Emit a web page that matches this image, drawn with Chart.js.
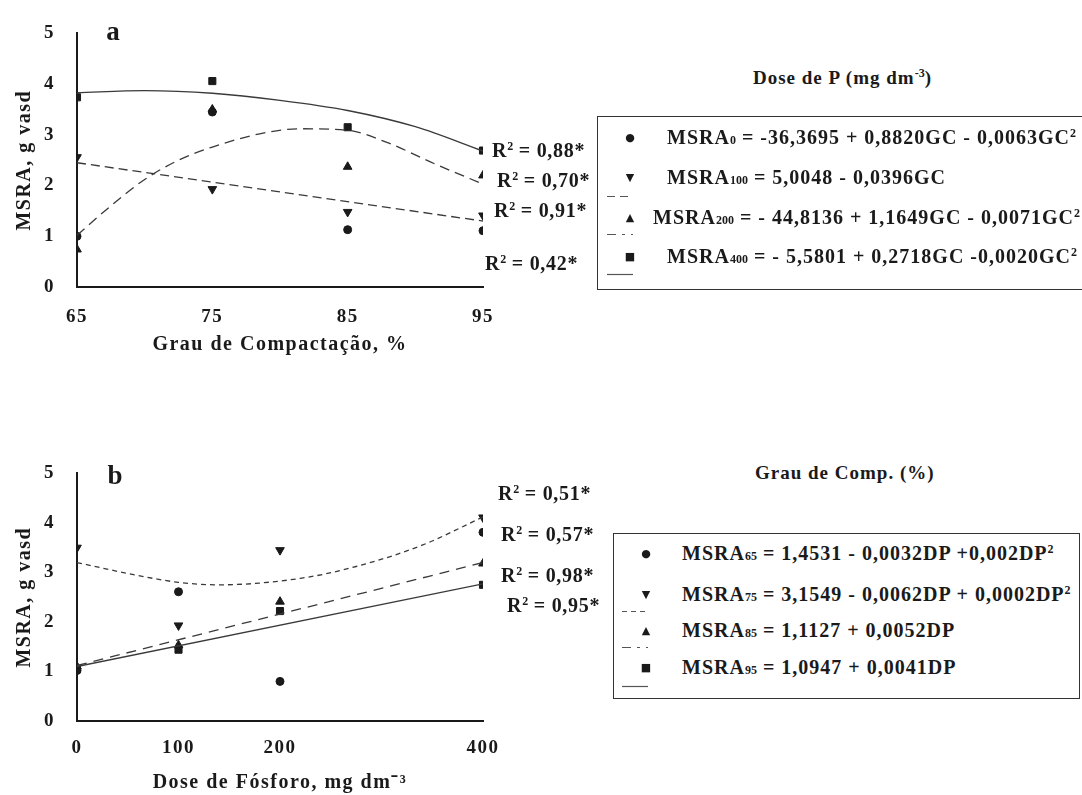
<!DOCTYPE html>
<html lang="pt">
<head>
<meta charset="utf-8">
<title>MSRA</title>
<script src="https://cdn.jsdelivr.net/npm/chart.js@4.4.1/dist/chart.umd.min.js"></script>
<style>
  body { margin:0; background:#fff; width:1082px; height:795px; overflow:hidden; position:relative;
         font-family:"Liberation Serif", "Times New Roman", serif; font-weight:bold; color:#1a1a1a; }
  canvas { position:absolute; left:0; }
  .t { position:absolute; white-space:nowrap; line-height:1; transform:translateY(-50%); }
  .eq { font-size:20px; letter-spacing:1px; }
  .r2 { font-size:20px; letter-spacing:0.7px; }
  .cap { font-size:19px; letter-spacing:1px; }
  .sub { font-size:12px; letter-spacing:0; }
  .sup { font-size:12px; vertical-align:7px; letter-spacing:0; }
  .mk { position:absolute; font-family:"DejaVu Sans", sans-serif; font-size:11px; line-height:1;
        transform:translate(-50%,-50%); }
  .box { position:absolute; border:1px solid #333; }
  .ln { position:absolute; }
  .panel { position:absolute; font-size:27px; line-height:1; transform:translate(-50%,-50%); }
</style>
</head>
<body>
<canvas id="chartA" width="540" height="360" style="top:0"></canvas>
<canvas id="chartB" width="540" height="355" style="top:440px"></canvas>

<div class="panel" style="left:113px;top:31px">a</div>
<div class="panel" style="left:115px;top:475px">b</div>

<!-- R2 labels, panel a -->
<div class="t r2" style="left:492px;top:150px">R<span class="sup">2</span> = 0,88*</div>
<div class="t r2" style="left:497px;top:180px">R<span class="sup">2</span> = 0,70*</div>
<div class="t r2" style="left:494px;top:210px">R<span class="sup">2</span> = 0,91*</div>
<div class="t r2" style="left:485px;top:263px">R<span class="sup">2</span> = 0,42*</div>

<!-- R2 labels, panel b -->
<div class="t r2" style="left:498px;top:493px">R<span class="sup">2</span> = 0,51*</div>
<div class="t r2" style="left:501px;top:534px">R<span class="sup">2</span> = 0,57*</div>
<div class="t r2" style="left:501px;top:575px">R<span class="sup">2</span> = 0,98*</div>
<div class="t r2" style="left:507px;top:605px">R<span class="sup">2</span> = 0,95*</div>

<!-- legend a -->
<div class="t cap" style="left:753px;top:77px">Dose de P (mg dm<span class="sup">-3</span>)</div>
<div class="box" style="left:597px;top:116px;width:520px;height:172px"></div>
<div class="mk" style="left:630px;top:137px">●</div>
<div class="t eq" style="left:667px;top:137px">MSRA<span class="sub">0</span> = -36,3695 + 0,8820GC - 0,0063GC<span class="sup">2</span></div>
<div class="mk" style="left:630px;top:177px">▼</div>
<div class="t eq" style="left:667px;top:177px">MSRA<span class="sub">100</span> = 5,0048 - 0,0396GC</div>
<svg class="ln" style="left:607px;top:195px" width="26" height="3"><line x1="0" y1="1.5" x2="26" y2="1.5" stroke="#555" stroke-width="1.2" stroke-dasharray="8,5"/></svg>
<div class="mk" style="left:630px;top:217px">▲</div>
<div class="t eq" style="left:653px;top:217px">MSRA<span class="sub">200</span> = - 44,8136 + 1,1649GC - 0,0071GC<span class="sup">2</span></div>
<svg class="ln" style="left:607px;top:233px" width="26" height="3"><line x1="0" y1="1.5" x2="26" y2="1.5" stroke="#555" stroke-width="1.2" stroke-dasharray="9,6,3,6"/></svg>
<div class="mk" style="left:630px;top:256px">■</div>
<div class="t eq" style="left:667px;top:256px">MSRA<span class="sub">400</span> = - 5,5801 + 0,2718GC -0,0020GC<span class="sup">2</span></div>
<svg class="ln" style="left:607px;top:273px" width="26" height="3"><line x1="0" y1="1.5" x2="26" y2="1.5" stroke="#555" stroke-width="1.2"/></svg>

<!-- legend b -->
<div class="t cap" style="left:755px;top:472px">Grau de Comp. (%)</div>
<div class="box" style="left:613px;top:533px;width:465px;height:164px"></div>
<div class="mk" style="left:646px;top:553px">●</div>
<div class="t eq" style="left:682px;top:553px">MSRA<span class="sub">65</span> = 1,4531 - 0,0032DP +0,002DP<span class="sup">2</span></div>
<div class="mk" style="left:646px;top:594px">▼</div>
<div class="t eq" style="left:682px;top:594px">MSRA<span class="sub">75</span> = 3,1549 - 0,0062DP + 0,0002DP<span class="sup">2</span></div>
<svg class="ln" style="left:622px;top:610px" width="26" height="3"><line x1="0" y1="1.5" x2="26" y2="1.5" stroke="#555" stroke-width="1.2" stroke-dasharray="5,4"/></svg>
<div class="mk" style="left:646px;top:630px">▲</div>
<div class="t eq" style="left:682px;top:630px">MSRA<span class="sub">85</span> = 1,1127 + 0,0052DP</div>
<svg class="ln" style="left:622px;top:646px" width="26" height="3"><line x1="0" y1="1.5" x2="26" y2="1.5" stroke="#555" stroke-width="1.2" stroke-dasharray="9,6,3,6"/></svg>
<div class="mk" style="left:646px;top:667px">■</div>
<div class="t eq" style="left:682px;top:667px">MSRA<span class="sub">95</span> = 1,0947 + 0,0041DP</div>
<svg class="ln" style="left:622px;top:685px" width="26" height="3"><line x1="0" y1="1.5" x2="26" y2="1.5" stroke="#555" stroke-width="1.2"/></svg>

<script>
// panel a: MSRA vs grau de compactacao, one series per dose of P
const gcLevels = [65, 75, 85, 95];
const gcTicks = [65, 75, 85, 95];
const msraTicks = [0, 1, 2, 3, 4, 5];

const dose0 = [1.00, 3.45, 1.13, 1.11];
const dose100 = [2.56, 1.93, 1.48, 1.41];
const dose200 = [0.74, 3.50, 2.37, 2.20];
const dose400 = [3.74, 4.06, 3.15, 2.69];

// trend curves as drawn in the figure
const fit100X = [65, 95];
const fit100Y = [2.45, 1.30];
const fit200X = [65, 67.5, 70, 72.5, 75, 78.5, 81.5, 85, 88, 91.5, 95];
const fit200Y = [1.02, 1.60, 2.12, 2.50, 2.76, 3.02, 3.12, 3.09, 2.84, 2.42, 2.03];
const fit400X = [65, 70, 75, 80, 85, 90, 95];
const fit400Y = [3.83, 3.87, 3.82, 3.68, 3.48, 3.16, 2.68];

// panel b: MSRA vs dose de fosforo, one series per grau de compactacao
const doseLevels = [0, 100, 200, 400];
const doseTicks = [0, 100, 200, 400];
const gc65 = [1.02, 2.61, 0.80, 3.81];
const gc75 = [3.50, 1.93, 3.45, 4.11];
const gc85 = [1.10, 1.53, 2.41, 3.18];
const gc95 = [1.05, 1.44, 2.22, 2.75];

const fit75X = [0, 50, 100, 140, 220, 275, 340, 400];
const fit75Y = [3.20, 2.98, 2.80, 2.75, 2.88, 3.12, 3.55, 4.12];
const fit85X = [0, 400];
const fit85Y = [1.12, 3.20];
const fit95X = [0, 400];
const fit95Y = [1.10, 2.77];

const ink = '#1a1a1a';
const tickFont = {family: 'Liberation Serif', size: 19, weight: 'bold'};
const titleFont = {family: 'Liberation Serif', size: 20, weight: 'bold'};

// the scanned figure has widely spaced lettering
const spacedText = {
    id: 'spacedText',
    beforeDraw: function(chart) { chart.ctx.letterSpacing = '1.5px'; }
};

function pts(xs, ys) {
    return xs.map(function(x, i) { return {x: x, y: ys[i]}; });
}

function markers(xs, ys, style, rot, r) {
    return {
        data: pts(xs, ys),
        showLine: false,
        pointStyle: style,
        rotation: rot,
        pointRadius: r,
        backgroundColor: ink,
        borderColor: ink,
        borderWidth: 1
    };
}

function trend(xs, ys, dash) {
    return {
        data: pts(xs, ys),
        showLine: true,
        pointRadius: 0,
        borderColor: '#3a3a3a',
        borderWidth: 1.3,
        borderDash: dash,
        cubicInterpolationMode: 'monotone',
        fill: false
    };
}

function makeChart(id, datasets, xMin, xMax, xTicks, xTitle, xHeight, xPad, xTitlePad) {
    return new Chart(document.getElementById(id), {
        type: 'scatter',
        data: {datasets: datasets},
        plugins: [spacedText],
        options: {
            responsive: false,
            animation: false,
            events: [],
            layout: {padding: {top: 17, right: 57, left: 0, bottom: 0}},
            plugins: {legend: {display: false}, tooltip: {enabled: false}},
            scales: {
                x: {
                    type: 'linear',
                    min: xMin,
                    max: xMax,
                    afterBuildTicks: function(s) { s.ticks = xTicks.map(function(v) { return {value: v}; }); },
                    afterFit: function(s) { s.height = xHeight; },
                    grid: {display: false, drawTicks: false},
                    border: {display: true, color: ink, width: 2},
                    ticks: {font: tickFont, color: ink, padding: xPad, maxRotation: 0},
                    title: {display: true, text: xTitle, font: titleFont, color: ink, padding: {top: 0, bottom: xTitlePad}}
                },
                y: {
                    type: 'linear',
                    min: 0,
                    max: 5,
                    afterBuildTicks: function(s) { s.ticks = msraTicks.map(function(v) { return {value: v}; }); },
                    afterFit: function(s) { s.width = 77; },
                    grid: {display: false, drawTicks: false},
                    border: {display: true, color: ink, width: 2},
                    ticks: {font: tickFont, color: ink, padding: 22},
                    title: {display: true, text: 'MSRA, g vasd', font: titleFont, color: ink, padding: {top: 13, bottom: 0}}
                }
            }
        }
    });
}

makeChart('chartA', [
    trend(fit400X, fit400Y, []),
    trend(fit200X, fit200Y, [10, 6]),
    trend(fit100X, fit100Y, [9, 5]),
    markers(gcLevels, dose0, 'circle', 0, 4),
    markers(gcLevels, dose100, 'triangle', 180, 5),
    markers(gcLevels, dose200, 'triangle', 0, 5),
    markers(gcLevels, dose400, 'rect', 0, 5)
], 65, 95, gcTicks, 'Grau de Compactação, %', 73, 19, 3);

makeChart('chartB', [
    trend(fit75X, fit75Y, [5, 4]),
    trend(fit85X, fit85Y, [10, 7]),
    trend(fit95X, fit95Y, []),
    markers(doseLevels, gc65, 'circle', 0, 4),
    markers(doseLevels, gc75, 'triangle', 180, 5),
    markers(doseLevels, gc85, 'triangle', 0, 5),
    markers(doseLevels, gc95, 'rect', 0, 5)
], 0, 400, doseTicks, 'Dose de Fósforo, mg dm⁻³', 74, 16, 0);
</script>
</body>
</html>
